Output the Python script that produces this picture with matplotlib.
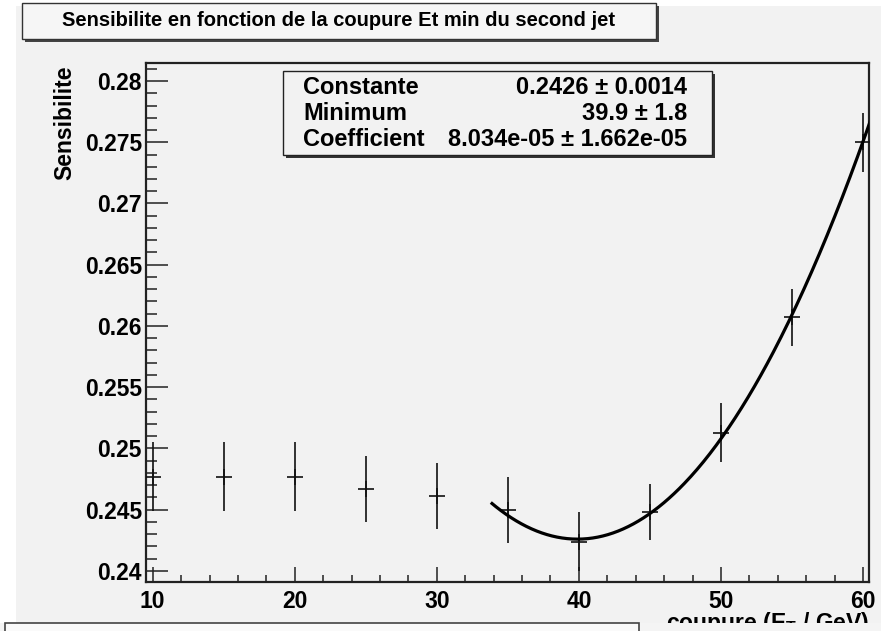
import numpy as np
import matplotlib
matplotlib.use("Agg")
import matplotlib.pyplot as plt
from matplotlib.patches import Rectangle
from matplotlib.ticker import MultipleLocator, FuncFormatter
from matplotlib import font_manager

# Measured sensitivity vs. second-jet Et cut
cut_gev = [10, 15, 20, 25, 30, 35, 40, 45, 50, 55, 60]
sensibilite = [0.2477, 0.2477, 0.2477, 0.2467, 0.2461, 0.2450, 0.2424,
               0.2448, 0.2513, 0.2607, 0.2750]
erreur = [0.0028, 0.0028, 0.0028, 0.0027, 0.0027, 0.0027, 0.0024,
          0.0023, 0.0024, 0.0023, 0.0024]

# Parabolic fit: Constante + Coefficient * (x - Minimum)^2
fit_names = ["Constante", "Minimum", "Coefficient"]
fit_values = ["0.2426 \u00b1 0.0014", "39.9 \u00b1 1.8", "8.034e-05 \u00b1 1.662e-05"]
constante, minimum, coefficient = 0.2426, 39.9, 8.034e-05
fit_range = (33.8, 60.6)

title = "Sensibilite en fonction de la coupure Et min du second jet"

W, H = 881, 631
BG = "#f2f2f2"

installed = {f.name for f in font_manager.fontManager.ttflist}
narrow = "Liberation Sans Narrow" if "Liberation Sans Narrow" in installed else "Liberation Sans"
plt.rcParams["font.family"] = ["Liberation Sans", "DejaVu Sans"]
plt.rcParams["mathtext.default"] = "regular"

fig = plt.figure(figsize=(W / 100, H / 100), dpi=100, facecolor="white")


def px(x0, y0, x1, y1):
    """Pixel box (top-left origin) to figure-fraction rectangle args."""
    return (x0 / W, 1 - y1 / H), (x1 - x0) / W, (y1 - y0) / H


# canvas background
xy, w, h = px(16, 6, W, 623)
fig.patches.append(Rectangle(xy, w, h, transform=fig.transFigure,
                             facecolor=BG, edgecolor="none", zorder=-5))

ax = fig.add_axes([146 / W, 1 - 582 / H, 723 / W, 519 / H])
ax.set_zorder(1)
ax.set_facecolor(BG)
ax.set_xlim(9.53, 60.42)
ax.set_ylim(0.23910, 0.28147)

ax.errorbar(cut_gev, sensibilite, yerr=erreur, fmt="none", ecolor="#111111",
            elinewidth=1.2, capsize=0, zorder=3)
ax.plot(cut_gev, sensibilite, linestyle="none", marker="+", markersize=11,
        markeredgewidth=1.2, color="#111111", zorder=3)

xf = np.linspace(fit_range[0], fit_range[1], 300)
ax.plot(xf, constante + coefficient * (xf - minimum) ** 2, color="black",
        linewidth=2.3, zorder=4, solid_capstyle="butt")

ax.xaxis.set_major_locator(MultipleLocator(10))
ax.xaxis.set_minor_locator(MultipleLocator(2))
ax.yaxis.set_major_locator(MultipleLocator(0.005))
ax.yaxis.set_minor_locator(MultipleLocator(0.001))
ax.yaxis.set_major_formatter(FuncFormatter(lambda v, p: f"{v:.3f}".rstrip("0")))
ax.tick_params(axis="both", which="both", direction="in", colors="#222222",
               labelcolor="black", width=1.1)
ax.tick_params(axis="x", which="major", length=11, labelsize=16.5, pad=6)
ax.tick_params(axis="x", which="minor", length=5)
ax.tick_params(axis="y", which="major", length=16, labelsize=16.5, pad=3)
ax.tick_params(axis="y", which="minor", length=8)
for lab in ax.get_xticklabels() + ax.get_yticklabels():
    lab.set_fontweight("bold")
for s in ax.spines.values():
    s.set_linewidth(1.6)
    s.set_color("#222222")

# axis titles
fig.text(65 / W, 1 - 65 / H, "Sensibilite", rotation=90, ha="center", va="top",
         fontsize=16.5, fontweight="bold")
fig.text(869 / W, 1 - 630 / H, "coupure (E$_{T}$ / GeV)", ha="right", va="baseline",
         fontsize=16.5, fontweight="bold", zorder=1)

# title box with shadow
xy, w, h = px(25, 6, 659, 42)
fig.patches.append(Rectangle(xy, w, h, transform=fig.transFigure,
                             facecolor="#444444", edgecolor="none", zorder=5))
xy, w, h = px(22, 3, 656, 39)
fig.patches.append(Rectangle(xy, w, h, transform=fig.transFigure,
                             facecolor="#f6f6f6", edgecolor="#333333", linewidth=1.0, zorder=6))
fig.text(339 / W, 1 - 21 / H, title, ha="center", va="center", fontsize=14.5,
         fontweight="bold", family=[narrow, "DejaVu Sans"], zorder=7)

# fit parameter box with shadow
xy, w, h = px(286, 74, 715, 158)
fig.patches.append(Rectangle(xy, w, h, transform=fig.transFigure,
                             facecolor="#333333", edgecolor="none", zorder=5))
xy, w, h = px(283, 71, 712, 155)
fig.patches.append(Rectangle(xy, w, h, transform=fig.transFigure,
                             facecolor=BG, edgecolor="#222222", linewidth=1.0, zorder=6))
for i, (name, val) in enumerate(zip(fit_names, fit_values)):
    yc = 1 - (87 + 26.5 * i) / H
    fig.text(303 / W, yc, name, ha="left", va="center", fontsize=17,
             fontweight="bold", zorder=7)
    fig.text(687 / W, yc, val, ha="right", va="center", fontsize=17,
             fontweight="bold", zorder=7)

# next pad's title box peeking in at the bottom
xy, w, h = px(0, 623, W, H)
fig.patches.append(Rectangle(xy, w, h, transform=fig.transFigure,
                             facecolor="#f4f4f4", edgecolor="none", zorder=8))
xy, w, h = px(5, 623, 639, H + 5)
fig.patches.append(Rectangle(xy, w, h, transform=fig.transFigure,
                             facecolor="#fafafa", edgecolor="#444444", linewidth=1.2, zorder=9))

fig.savefig("out.png", dpi=100, facecolor=fig.get_facecolor())
